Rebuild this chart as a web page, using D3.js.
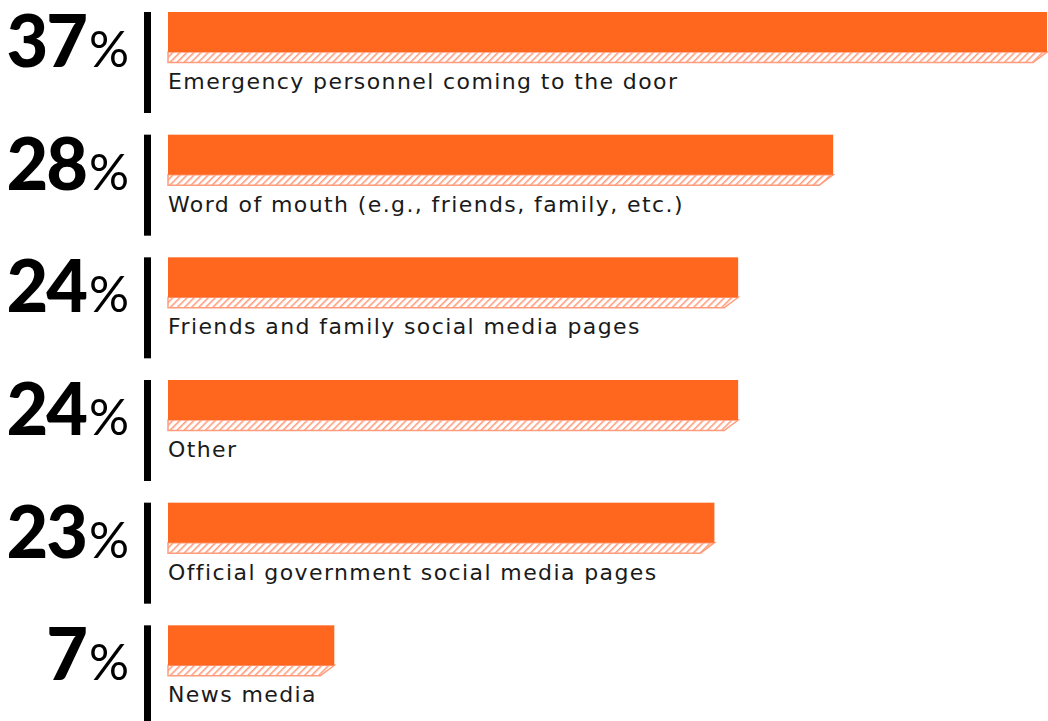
<!DOCTYPE html>
<html>
<head>
<meta charset="utf-8">
<script src="https://cdn.jsdelivr.net/npm/d3@7"></script>
<style>
  body { margin: 0; background: #fff; }
</style>
</head>
<body>
<div id="container"></div>
<script>
/* DATA */
const categories = [
  "Emergency personnel coming to the door",
  "Word of mouth (e.g., friends, family, etc.)",
  "Friends and family social media pages",
  "Other",
  "Official government social media pages",
  "News media"
];
const values = [37, 28, 24, 24, 23, 7];

/* LAYOUT */
const width = 1048, height = 721;
const orange = "#ff671f";
const hatchCol = "#ff9c7c";

const svg = d3.select("#container")
  .append("svg")
  .attr("width", width)
  .attr("height", height);

// hatch pattern
const defs = svg.append("defs");
const pat = defs.append("pattern")
  .attr("id", "hatch")
  .attr("patternUnits", "userSpaceOnUse")
  .attr("width", 5)
  .attr("height", 5)
  .attr("patternTransform", "rotate(45)");
pat.append("rect").attr("width", 5).attr("height", 5).attr("fill", "#fff");
pat.append("line")
  .attr("x1", 0).attr("y1", 0).attr("x2", 0).attr("y2", 5)
  .attr("stroke", hatchCol).attr("stroke-width", 3.2);

// scales
const x = d3.scaleLinear().domain([0, d3.max(values)]).range([168, 1047]);
const y = d3.scaleBand().domain(categories).range([12, 748]).paddingInner(0).paddingOuter(0);

const rows = svg.selectAll(".row")
  .data(categories)
  .join("g")
  .attr("class", "row")
  .attr("transform", d => `translate(0, ${y(d)})`);

// black divider
rows.append("rect")
  .attr("x", 144)
  .attr("y", 0)
  .attr("width", 7)
  .attr("height", 101)
  .attr("fill", "#000");

// hatched shadow strip
rows.append("path")
  .attr("d", (d, i) => {
    const x0 = x(0), x1 = x(values[i]);
    return `M${x0},40 L${x1},40 L${x1 - 14},50.5 L${x0},50.5 Z`;
  })
  .attr("fill", "url(#hatch)")
  .attr("stroke", hatchCol)
  .attr("stroke-width", 1.5);

// solid bar
rows.append("rect")
  .attr("x", x(0))
  .attr("y", 0)
  .attr("width", (d, i) => x(values[i]) - x(0))
  .attr("height", 40)
  .attr("fill", orange);

// percentage
const pct = rows.append("text")
  .attr("x", 129)
  .attr("y", 55)
  .attr("text-anchor", "end")
  .style("font-family", "Lato, 'Liberation Sans', sans-serif")
  .style("font-weight", 900)
  .attr("fill", "#000");
pct.append("tspan")
  .style("font-size", "72px")
  .style("letter-spacing", "-2px")
  .text((d, i) => values[i]);
pct.append("tspan")
  .attr("dx", 3)
  .style("font-size", "50px")
  .style("font-weight", 400)
  .text("%");

// label
rows.append("text")
  .attr("x", 168)
  .attr("y", 77)
  .style("font-family", "'DejaVu Sans', sans-serif")
  .style("font-size", "22px")
  .style("letter-spacing", "1.4px")
  .attr("fill", "#1a1a1a")
  .text(d => d);
</script>
</body>
</html>
